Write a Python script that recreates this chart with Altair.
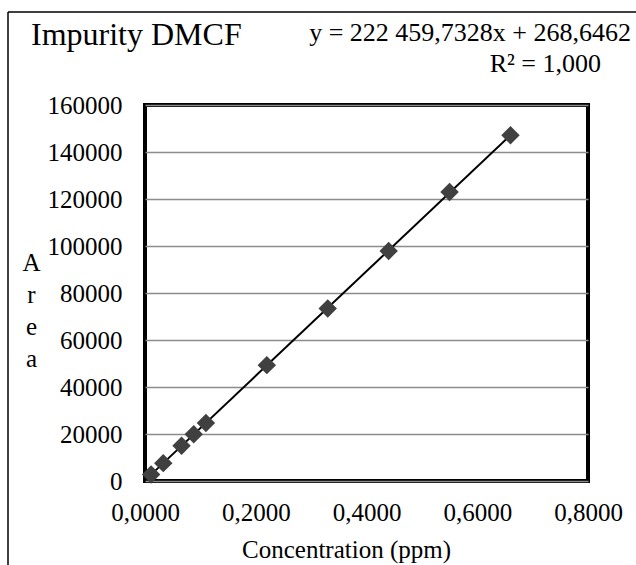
import altair as alt
import pandas as pd

# Data
concentration = [0.011, 0.033, 0.066, 0.088, 0.110, 0.220, 0.330, 0.440, 0.550, 0.660]
area = [2800, 7600, 15000, 19900, 24700, 49300, 73400, 97900, 123000, 147100]

x_ticks = [0.0, 0.2, 0.4, 0.6, 0.8]
y_ticks = [0, 20000, 40000, 60000, 80000, 100000, 120000, 140000, 160000]

chart_title = "Impurity DMCF"
equation_line = "y = 222 459,7328x + 268,6462"
r2_line = "R² = 1,000"
x_title = "Concentration (ppm)"
y_title = ["A", "r", "e", "a"]

FONT = "'Liberation Serif', 'Times New Roman', serif"

df = pd.DataFrame({"conc": concentration, "area": area})

x_enc = alt.X(
    "conc:Q",
    scale=alt.Scale(domain=[0, 0.8], nice=False),
    axis=alt.Axis(
        values=x_ticks,
        labelExpr="replace(format(datum.value, '.4f'), '.', ',')",
        grid=False,
        ticks=False,
        domain=False,
        labelFlush=False,
        labelPadding=19,
        labelFont=FONT,
        labelFontSize=25,
        labelColor="black",
        title=x_title,
        titleFont=FONT,
        titleFontSize=25,
        titleFontWeight="normal",
        titleColor="black",
        titleX=201,
        titleY=68,
        titleAlign="center",
        titleBaseline="middle",
    ),
)
y_enc = alt.Y(
    "area:Q",
    scale=alt.Scale(domain=[0, 160000], nice=False),
    axis=alt.Axis(
        values=y_ticks,
        format="d",
        grid=True,
        ticks=False,
        domain=False,
        labelFlush=False,
        labelPadding=23,
        labelFont=FONT,
        labelFontSize=25,
        labelColor="black",
        title=y_title,
        titleAngle=0,
        titleFont=FONT,
        titleFontSize=25,
        titleFontWeight="normal",
        titleColor="black",
        titleLineHeight=32,
        titleX=-114,
        titleY=157,
        titleAlign="center",
        titleBaseline="middle",
    ),
)

trend = (
    alt.Chart(df)
    .transform_regression("conc", "area")
    .mark_line(color="black", strokeWidth=2)
    .encode(x=x_enc, y=y_enc)
)

points = (
    alt.Chart(df)
    .mark_point(shape="diamond", filled=True, size=340, color="#404040", opacity=1)
    .encode(x=x_enc, y=y_enc)
)

def label(text, x, y, size, align):
    return (
        alt.Chart(pd.DataFrame({"t": [text]}))
        .mark_text(font=FONT, fontSize=size, align=align, baseline="alphabetic", color="black")
        .encode(x=alt.value(x), y=alt.value(y), text="t:N")
    )

title_txt = label(chart_title, 31 - 145, 45 - 105, 32, "left")
eq_txt = label(equation_line, 631 - 145, 41 - 105, 26, "right")
r2_txt = label(r2_line, 601 - 145, 72 - 105, 26, "right")

frame_left = (
    alt.Chart(pd.DataFrame({"k": [0]}))
    .mark_rule(color="black", strokeWidth=1.5)
    .encode(x=alt.value(8 - 145), y=alt.value(12 - 105), y2=alt.value(600))
)
frame_top = (
    alt.Chart(pd.DataFrame({"k": [0]}))
    .mark_rule(color="black", strokeWidth=1.5)
    .encode(y=alt.value(12 - 105), x=alt.value(8 - 145), x2=alt.value(600))
)

chart = (
    alt.layer(trend, points, title_txt, eq_txt, r2_txt, frame_left, frame_top)
    .properties(
        width=443,
        height=376,
        padding={"left": 145, "top": 105, "right": 48, "bottom": 84},
        autosize=alt.AutoSizeParams(type="none"),
        background="white",
    )
    .configure_view(stroke="black", strokeWidth=4)
    .configure_axis(
        gridColor="#8c8c8c",
        gridWidth=1.5,
    )
)

chart.save("out.html", embed_options={"renderer": "svg", "actions": False})
